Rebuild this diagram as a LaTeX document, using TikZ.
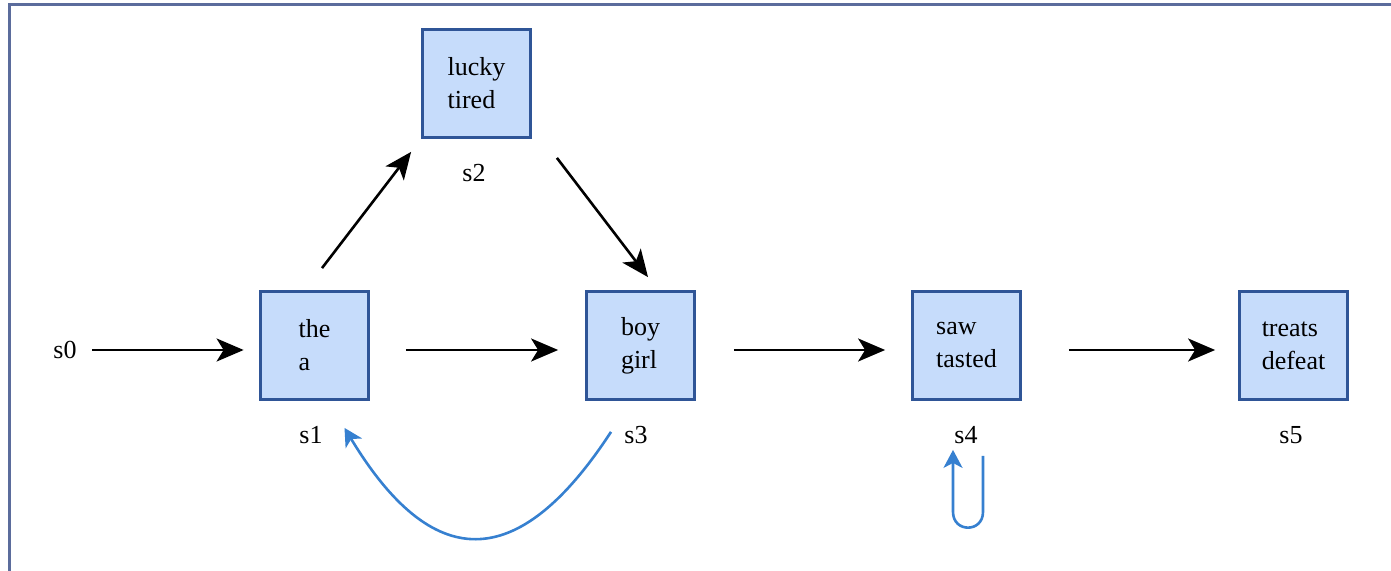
\documentclass[tikz,border=0pt]{standalone}
\usepackage{fontspec}
\setmainfont{Liberation Serif}
\usetikzlibrary{arrows.meta}

\definecolor{boxfill}{HTML}{C6DCFB}
\definecolor{boxline}{HTML}{2F5597}
\definecolor{loopblue}{HTML}{3680D0}
\definecolor{framecol}{HTML}{5B6C9C}

\begin{document}
\begin{tikzpicture}[x=0.5pt, y=-0.5pt,
        font=\fontsize{13}{16.5}\selectfont,
        wordbox/.style={rectangle, draw=boxline, line width=1.4pt, fill=boxfill,
            minimum width=54pt, minimum height=54pt, align=left, inner sep=0pt},
        lab/.style={inner sep=0pt},
        arr/.style={line width=1.3pt, -{Stealth[length=13.5pt, width=11.5pt, inset=3.5pt]}},
        backarr/.style={line width=1.3pt, draw=loopblue, -{Stealth[length=9pt, width=9.5pt, inset=2.5pt]}}]

        \useasboundingbox (0, 0) rectangle (1391, 571);
        \draw[framecol, line width=1.5pt] (9, 575) -- (9, 4.7) -- (1395, 4.7);

        \node[wordbox] (s1) at (314.5, 345.5) {the\\a};
        \node[wordbox] (s2) at (476.5, 83.5) {lucky\\tired};
        \node[wordbox] (s3) at (640.5, 345.5) {boy\\girl};
        \node[wordbox] (s4) at (966.5, 345.5) {saw\\tasted};
        \node[wordbox] (s5) at (1293.5, 345.5) {treats\\defeat};

        \node[lab] (s0) at (65, 350) {s0};
        \node[lab] (l1) at (311, 435) {s1};
        \node[lab] (l2) at (474, 173) {s2};
        \node[lab] (l3) at (636, 435) {s3};
        \node[lab] (l4) at (966, 435) {s4};
        \node[lab] (l5) at (1291, 435) {s5};

        \draw[arr] ([shift={(27, 0)}]s0.center) -- ([shift={(-15.5, 4.5)}]s1.west);
        \draw[arr] ([shift={(36, 4.5)}]s1.east) -- ([shift={(-27, 4.5)}]s3.west);
        \draw[arr] ([shift={(38, 4.5)}]s3.east) -- ([shift={(-26, 4.5)}]s4.west);
        \draw[arr] ([shift={(47, 4.5)}]s4.east) -- ([shift={(-23, 4.5)}]s5.west);
        \draw[arr] ([shift={(7.5, -22)}]s1.north) -- ([shift={(-10, 13)}]s2.south west);
        \draw[arr] ([shift={(25, 19)}]s2.south east) -- ([shift={(7.5, -13)}]s3.north);

        \draw[backarr] ([shift={(-29.5, 31)}]s3.south) .. controls +(-94, 144) and +(87, 144) .. ([shift={(30, 27)}]s1.south);
        \draw[backarr] ([shift={(16.5, 55)}]s4.south) -- ++(0, 56)
            .. controls +(0, 21) and +(0, 21) .. ([shift={(-13.5, 111)}]s4.south)
            -- ([shift={(-13.5, 49)}]s4.south);

    \end{tikzpicture}
\end{document}
